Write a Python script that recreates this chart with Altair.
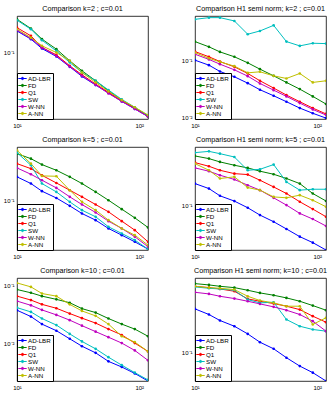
import altair as alt
import pandas as pd

FONT = "Liberation Sans"

# Mesh sizes shared by every panel
N = [10, 13, 16, 21, 27, 34, 44, 56, 72, 92, 118]

METHODS = ["AD-LBR", "FD", "Q1", "SW", "W-NN", "A-NN"]
COLORS = ["#0000ff", "#008000", "#ff0000", "#00bfbf", "#bf00bf", "#bfbf00"]

# L2 errors, k=2
l2_k2 = {
    "AD-LBR": [0.194, 0.151, 0.113, 0.0885, 0.0644, 0.0479, 0.0367, 0.0287, 0.0222, 0.0176, 0.0139],
    "FD":     [0.278, 0.209, 0.151, 0.111, 0.0774, 0.0570, 0.0419, 0.0308, 0.0231, 0.0181, 0.0143],
    "Q1":     [0.215, 0.167, 0.117, 0.093, 0.0664, 0.0504, 0.0378, 0.0293, 0.0227, 0.0181, 0.0140],
    "SW":     [0.270, 0.205, 0.146, 0.105, 0.0736, 0.0541, 0.0419, 0.0315, 0.0236, 0.0185, 0.0143],
    "W-NN":   [0.199, 0.154, 0.117, 0.090, 0.0651, 0.0489, 0.0371, 0.0284, 0.0222, 0.0176, 0.0139],
    "A-NN":   [0.205, 0.158, 0.123, 0.100, 0.0774, 0.0541, 0.0398, 0.0302, 0.0231, 0.0185, 0.0146],
}

# H1 semi-norm errors, k=2
h1_k2 = {
    "AD-LBR": [0.1027, 0.0839, 0.0649, 0.0522, 0.0403, 0.0308, 0.0241, 0.0189, 0.0146, 0.0118, 0.0097],
    "FD":     [0.219, 0.177, 0.144, 0.118, 0.0922, 0.0713, 0.0543, 0.0415, 0.0316, 0.0235, 0.0172],
    "Q1":     [0.146, 0.118, 0.0973, 0.0783, 0.0598, 0.0444, 0.0330, 0.0248, 0.0189, 0.0146, 0.0115],
    "SW":     [0.543, 0.582, 0.582, 0.508, 0.296, 0.338, 0.425, 0.219, 0.184, 0.205, 0.202],
    "W-NN":   [0.131, 0.106, 0.0873, 0.0693, 0.0536, 0.0398, 0.0303, 0.0235, 0.0179, 0.0138, 0.0110],
    "A-NN":   [0.140, 0.111, 0.096, 0.0805, 0.0614, 0.064, 0.0543, 0.0488, 0.0598, 0.0415, 0.0444],
}

# L2 errors, k=5
l2_k5 = {
    "AD-LBR": [0.205, 0.167, 0.132, 0.107, 0.084, 0.0664, 0.0541, 0.0419, 0.0341, 0.0278, 0.0222],
    "FD":     [0.419, 0.359, 0.299, 0.251, 0.205, 0.167, 0.129, 0.100, 0.0759, 0.0581, 0.0432],
    "Q1":     [0.308, 0.264, 0.215, 0.170, 0.136, 0.111, 0.0875, 0.0699, 0.0525, 0.0398, 0.0278],
    "SW":     [0.432, 0.293, 0.167, 0.129, 0.095, 0.0736, 0.060, 0.0441, 0.0359, 0.0293, 0.0222],
    "W-NN":   [0.270, 0.222, 0.185, 0.146, 0.111, 0.0875, 0.0685, 0.0525, 0.0419, 0.0325, 0.0239],
    "A-NN":   [0.464, 0.308, 0.211, 0.209, 0.136, 0.095, 0.0736, 0.0541, 0.0419, 0.0341, 0.0251],
}

# H1 semi-norm errors, k=5
h1_k5 = {
    "AD-LBR": [0.207, 0.175, 0.137, 0.1145, 0.0914, 0.0714, 0.057, 0.0446, 0.0344, 0.0281, 0.0219],
    "FD":     [0.527, 0.482, 0.431, 0.385, 0.352, 0.315, 0.284, 0.246, 0.207, 0.148, 0.115],
    "Q1":     [0.421, 0.372, 0.325, 0.290, 0.281, 0.232, 0.185, 0.148, 0.112, 0.0874, 0.0675],
    "SW":     [0.590, 0.616, 0.570, 0.509, 0.325, 0.336, 0.394, 0.219, 0.166, 0.171, 0.171],
    "W-NN":   [0.352, 0.315, 0.275, 0.238, 0.196, 0.166, 0.128, 0.100, 0.0755, 0.0624, 0.0493],
    "A-NN":   [0.407, 0.325, 0.246, 0.260, 0.181, 0.166, 0.132, 0.128, 0.140, 0.118, 0.0946],
}

# L2 errors, k=10
l2_k10 = {
    "AD-LBR": [0.0377, 0.0294, 0.0218, 0.0168, 0.0122, 0.0091, 0.0070, 0.0050, 0.0040, 0.0031, 0.0023],
    "FD":     [0.0856, 0.0752, 0.0659, 0.058, 0.0508, 0.0402, 0.0344, 0.0272, 0.0218, 0.0179, 0.0135],
    "Q1":     [0.0659, 0.0564, 0.0476, 0.0408, 0.0331, 0.0276, 0.0227, 0.0179, 0.0142, 0.0103, 0.0074],
    "SW":     [0.0418, 0.0353, 0.0272, 0.021, 0.0148, 0.011, 0.0082, 0.0059, 0.0043, 0.0032, 0.0024],
    "W-NN":   [0.0542, 0.0458, 0.0382, 0.0314, 0.0255, 0.0205, 0.0162, 0.0130, 0.0103, 0.0077, 0.0052],
    "A-NN":   [0.111, 0.095, 0.0731, 0.0659, 0.0476, 0.0367, 0.0302, 0.0218, 0.0135, 0.0107, 0.0074],
}

# H1 semi-norm errors, k=10
h1_k10 = {
    "AD-LBR": [0.348, 0.296, 0.249, 0.211, 0.169, 0.133, 0.110, 0.085, 0.0668, 0.0552, 0.0434],
    "FD":     [0.722, 0.695, 0.668, 0.643, 0.596, 0.552, 0.516, 0.478, 0.434, 0.383, 0.335],
    "Q1":     [0.668, 0.643, 0.619, 0.579, 0.464, 0.434, 0.406, 0.376, 0.341, 0.282, 0.237],
    "SW":     [0.656, 0.631, 0.619, 0.596, 0.455, 0.414, 0.422, 0.256, 0.211, 0.192, 0.183],
    "W-NN":   [0.562, 0.536, 0.501, 0.469, 0.434, 0.402, 0.369, 0.335, 0.296, 0.244, 0.183],
    "A-NN":   [0.668, 0.643, 0.631, 0.607, 0.501, 0.443, 0.414, 0.376, 0.376, 0.222, 0.269],
}

# legend glyph: short line with a dot in the middle
LEGEND_GLYPH = ("M-1.4,0L1.4,0M-0.38,0A0.38,0.38,0,1,0,0.38,0"
                "A0.38,0.38,0,1,0,-0.38,0Z")

PANEL_W, PANEL_H = 131, 103


def panel(title, series, ydomain, yticks):
    rows = [
        {"n": n, "err": v, "method": m}
        for m in METHODS
        for n, v in zip(N, series[m])
    ]
    df = pd.DataFrame(rows)

    x = alt.X(
        "n:Q",
        scale=alt.Scale(type="log", domain=[10, 118], nice=False),
        axis=alt.Axis(
            values=[10, 100],
            labelExpr="datum.value < 50 ? '10¹' : '10²'",
            title=None, ticks=False, domain=False, grid=False,
            labelFontSize=6, labelFont=FONT, labelColor="black",
            labelPadding=3, labelFlush=False,
        ),
    )
    y = alt.Y(
        "err:Q",
        scale=alt.Scale(type="log", domain=ydomain, nice=False),
        axis=alt.Axis(
            values=yticks,
            labelExpr="datum.value > 0.05 ? '10⁻¹' : '10⁻²'",
            title=None, ticks=False, domain=False, grid=False,
            labelFontSize=6, labelFont=FONT, labelColor="black",
            labelPadding=3,
        ),
    )
    color = alt.Color(
        "method:N",
        scale=alt.Scale(domain=METHODS, range=COLORS),
        legend=alt.Legend(
            title=None, orient="bottom-left", offset=0,
            fillColor="white", strokeColor="black", padding=2,
            labelFontSize=6.2, labelFont=FONT, labelColor="black",
            labelOffset=2, symbolType=LEGEND_GLYPH, symbolSize=36,
            symbolStrokeWidth=1, rowPadding=0,
        ),
    )
    base = alt.Chart(df).encode(x=x, y=y, color=color)
    lines = base.mark_line(strokeWidth=1, clip=True)
    points = base.mark_point(filled=True, size=7, opacity=1, clip=True)
    return alt.layer(lines, points).properties(
        width=PANEL_W,
        height=PANEL_H,
        title=alt.Title(title, fontSize=7.2, font=FONT, fontWeight="normal",
                        color="black", offset=4),
    )


chart = alt.concat(
    panel("Comparison k=2 ; c=0.01", l2_k2, [0.0129, 0.308], [0.1]),
    panel("Comparison H1 semi norm; k=2 ; c=0.01", h1_k2, [0.00935, 0.622], [0.1, 0.01]),
    panel("Comparison k=5 ; c=0.01", l2_k5, [0.0216, 0.514], [0.1]),
    panel("Comparison H1 semi norm; k=5 ; c=0.01", h1_k5, [0.0219, 0.714], [0.1]),
    panel("Comparison k=10 ; c=0.01", l2_k10, [0.0023, 0.135], [0.1, 0.01]),
    panel("Comparison H1 semi norm; k=10 ; c=0.01", h1_k10, [0.0434, 0.849], [0.1]),
    columns=2,
    spacing={"row": 28, "column": 47},
    bounds="flush",
).resolve_scale(
    color="independent"
).properties(
    padding={"left": 2, "top": 4, "right": 0, "bottom": 0},
    background="white",
).configure_view(
    stroke="black", strokeWidth=0.8
)

chart.save("out.html", embed_options={"renderer": "svg", "actions": False})
